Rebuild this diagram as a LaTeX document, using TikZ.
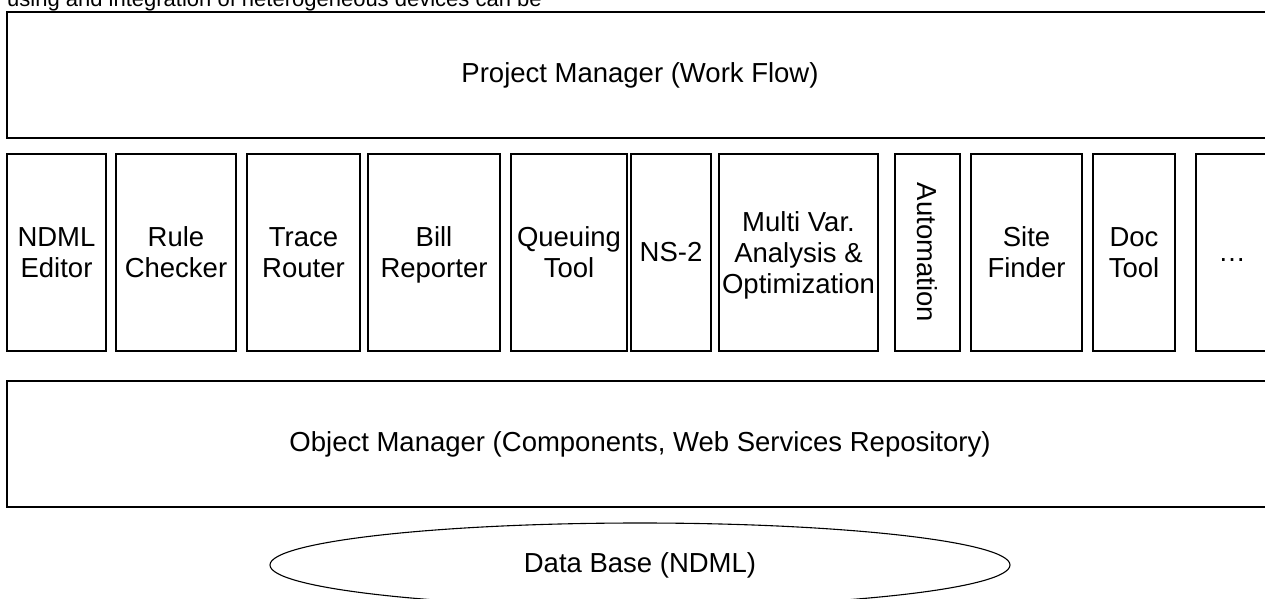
\documentclass[tikz,border=0pt]{standalone}
\usepackage{fontspec}
\setmainfont{Liberation Sans}
\usetikzlibrary{shapes.geometric}
\newcommand{\boxfont}{\fontsize{27.5}{31}\selectfont}
\newcommand{\introfont}{\fontsize{22}{26}\selectfont}
\tikzset{
  layer/.style={draw, line width=1.3pt, inner sep=0pt, font=\boxfont,
    minimum width=1266, minimum height=126},
  tool/.style={draw, line width=1.3pt, inner sep=0pt, align=center,
    font=\boxfont, minimum height=197},
  store/.style={draw, ellipse, line width=1.1pt, inner sep=0pt,
    font=\boxfont, minimum width=740, minimum height=84}
}
\begin{document}
\begin{tikzpicture}[x=1pt, y=-1pt]
\useasboundingbox (0,0) rectangle (1265,599);
\clip (0,0) rectangle (1265,599);

% running text of the page above the figure
\node[anchor=base west, inner sep=0pt, font=\introfont] (intro) at (7,6.5)
  {using and integration of heterogeneous devices can be};

% upper layer
\node[layer] (pm) at (640,75) {Project Manager (Work Flow)};

% tool column (descenders of the last line are smashed so that
% every label is centred on its capital height)
\node[tool, minimum width=99]  (ndml)  at (56.5,252.5)  {NDML\\Editor};
\node[tool, minimum width=120] (rule)  at (176,252.5)   {Rule\\Checker};
\node[tool, minimum width=113] (trace) at (303.5,252.5) {Trace\\Router};
\node[tool, minimum width=132] (bill)  at (434,252.5)   {Bill\\\smash{Reporter}};
\node[tool, minimum width=116] (queue) at (569,252.5)   {Queuing\\Tool};
\node[tool, minimum width=80]  (ns)    at (671,252.5)   {NS-2};
\node[tool, minimum width=159] (multi) at (798.5,252.5) {Multi Var.\\Analysis \&\\\smash{Optimization}};
\node[draw, line width=1.3pt, inner sep=0pt, font=\boxfont, rotate=-90,
      minimum width=197, minimum height=65] (auto) at (927.5,252.5) {Automation};
\node[tool, minimum width=111] (site)  at (1026.5,252.5) {Site\\Finder};
\node[tool, minimum width=82]  (doc)   at (1134,252.5)   {Doc\\Tool};
\node[tool, minimum width=72]  (more)  at (1232,252.5)   {\vphantom{N}…};

% lower layer
\node[layer] (om) at (640,444) {Object Manager (Components, Web Services Repository)};

% storage
\node[store] (db) at (640,565) {Data Base (NDML)};
\end{tikzpicture}
\end{document}
